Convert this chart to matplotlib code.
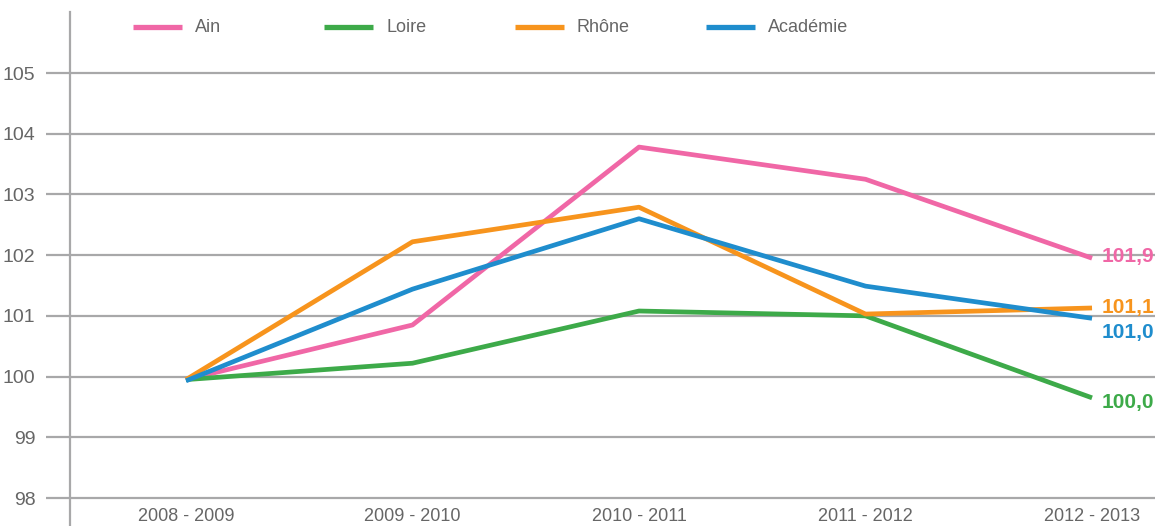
import matplotlib.pyplot as plt
from matplotlib.lines import Line2D

years = ['2008 - 2009', '2009 - 2010', '2010 - 2011', '2011 - 2012', '2012 - 2013']
ain = [99.95, 100.85, 103.78, 103.25, 101.95]
loire = [99.95, 100.22, 101.08, 101.0, 99.65]
rhone = [99.95, 102.22, 102.79, 101.03, 101.13]
academie = [99.93, 101.44, 102.6, 101.49, 100.96]
end_labels = ['101,9', '100,0', '101,1', '101,0']
series_names = ['Ain', 'Loire', 'Rhône', 'Académie']
colors = ['#F067A6', '#3DAA49', '#F7941D', '#1F8DCD']
yticks = [98, 99, 100, 101, 102, 103, 104, 105]

plt.rcParams['font.family'] = ['Liberation Sans', 'DejaVu Sans']
grey = '#A8A8A9'
txt = '#666666'
fs = 13

W, H = 1155, 526
fig = plt.figure(figsize=(W / 100, H / 100), dpi=100)
ax = fig.add_axes([70 / W, 0, (W - 70) / W, (H - 12) / H])

x = list(range(len(years)))
all_series = [ain, loire, rhone, academie]
for vals, c in zip(all_series, colors):
    ax.plot(x, vals, color=c, lw=3.4, solid_capstyle='butt', zorder=3)

# end-of-line labels
offsets = [(7, 1), (7, -3), (7, 0), (7, -10)]
for vals, lab, c, off in zip(all_series, end_labels, colors, offsets):
    ax.annotate(lab, (x[-1], vals[-1]), xytext=off, textcoords='offset points',
                ha='left', va='center', color=c, fontsize=15, fontweight='bold',
                zorder=4)

ax.set_xlim(-0.512, 4.278)
ax.set_ylim(97.539, 106.005)
ax.set_yticks(yticks)
ax.set_yticklabels([str(t) for t in yticks])
ax.yaxis.grid(True, color=grey, lw=1.6)
ax.set_axisbelow(True)
ax.tick_params(axis='y', length=17, width=1.6, color=grey, pad=8,
               labelsize=fs + 1, labelcolor=txt)
ax.set_xticks([])
for i, lab in enumerate(years):
    ax.text(i, 97.69, lab, ha='center', va='center', fontsize=fs, color=txt)

for s in ['top', 'right', 'bottom']:
    ax.spines[s].set_visible(False)
ax.spines['left'].set_color(grey)
ax.spines['left'].set_linewidth(1.6)

# legend
ly = 1 - 27 / H
for i, (name, c) in enumerate(zip(series_names, colors)):
    x0 = 133 + i * 191
    fig.add_artist(Line2D([x0 / W, (x0 + 49) / W], [ly, ly], color=c, lw=3.8,
                          solid_capstyle='butt'))
    fig.text((x0 + 62) / W, ly, name, ha='left', va='center', fontsize=fs, color=txt)

fig.savefig('out.png', dpi=100)
